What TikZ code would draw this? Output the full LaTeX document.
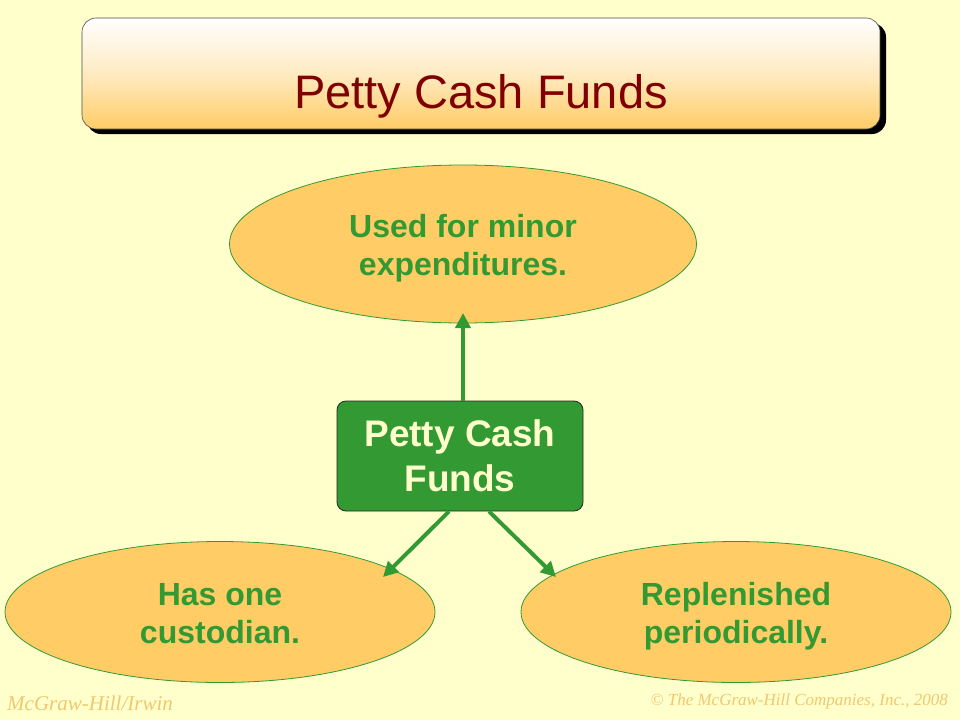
\documentclass[tikz,border=0pt]{standalone}
\usepackage{fontspec}
\setmainfont{Liberation Sans}
\newfontfamily\footfont{Liberation Serif}
\usetikzlibrary{shapes.geometric,arrows.meta,calc}
\definecolor{bgc}{HTML}{FFFFCC}
\definecolor{orangefill}{HTML}{FFCC66}
\definecolor{grn}{HTML}{339933}
\definecolor{titlered}{HTML}{800000}
\definecolor{cream}{HTML}{FFFFCC}
\definecolor{footc}{HTML}{F0C870}
\tikzset{
  bubble/.style={ellipse, draw=grn, line width=0.8pt, fill=orangefill, inner sep=0pt},
  btext/.style={text=grn, align=center, font=\fontsize{32}{38}\selectfont\bfseries, inner sep=0pt, anchor=base},
  conn/.style={draw=grn, line width=4pt, -{Triangle[length=15pt,width=15pt]}},
  foot/.style={text=footc, font=\footfont\itshape\fontsize{17}{20}\selectfont, inner sep=0pt}
}
\begin{document}
\begin{tikzpicture}[x=1pt,y=-1pt]
\useasboundingbox (0,0) rectangle (960,720);
\fill[bgc] (0,0) rectangle (960,720);
% title
\fill[black, rounded corners=14pt] (87,23) rectangle (886,134);
\shade[top color=white, bottom color=orangefill, middle color=white!60!orangefill, rounded corners=14pt]
  (82,18) rectangle (880,129);
\draw[draw=black!70, line width=0.6pt, rounded corners=14pt] (82,18) rectangle (880,129);
\node[anchor=base, text=titlered, font=\fontsize{47}{56}\selectfont, inner sep=0pt] (title) at (481,108) {Petty Cash Funds};
% ellipses
\node[bubble, minimum width=467pt, minimum height=158pt] (top) at (463,244) {};
\node[bubble, minimum width=430pt, minimum height=141pt] (left) at (220,612) {};
\node[bubble, minimum width=430pt, minimum height=141pt] (right) at (736,612) {};
\node[btext] (toptxt) at (463,275) {Used for minor\\expenditures.};
\node[btext] (lefttxt) at (220,643) {Has one\\custodian.};
\node[btext] (righttxt) at (736,643) {Replenished\\periodically.};
% center box
\node[draw=black!85, line width=0.8pt, fill=grn, rounded corners=9pt, minimum width=246pt, minimum height=110pt,
  text=cream, align=center, font=\fontsize{37}{45}\selectfont\bfseries, inner sep=0pt] (box) at (460,456) {Petty Cash\\Funds};
% connectors
\coordinate (ta) at (463,313);
\coordinate (la) at (383,577);
\coordinate (ra) at (556,577);
\coordinate (bl) at ($(box.south)+(-11,0)$);
\coordinate (br) at ($(box.south)+(29,0)$);
\draw[conn] ($(box.north)+(3,0)$) -- (ta);
\draw[conn] (bl) -- (la);
\draw[conn] (br) -- (ra);
% footer
\node[foot, anchor=base west, font=\footfont\itshape\fontsize{21}{24}\selectfont] (fl) at (7,710) {McGraw-Hill/Irwin};
\node[foot, anchor=base east] (fr) at (948,705) {© The McGraw-Hill Companies, Inc., 2008};
\end{tikzpicture}
\end{document}
